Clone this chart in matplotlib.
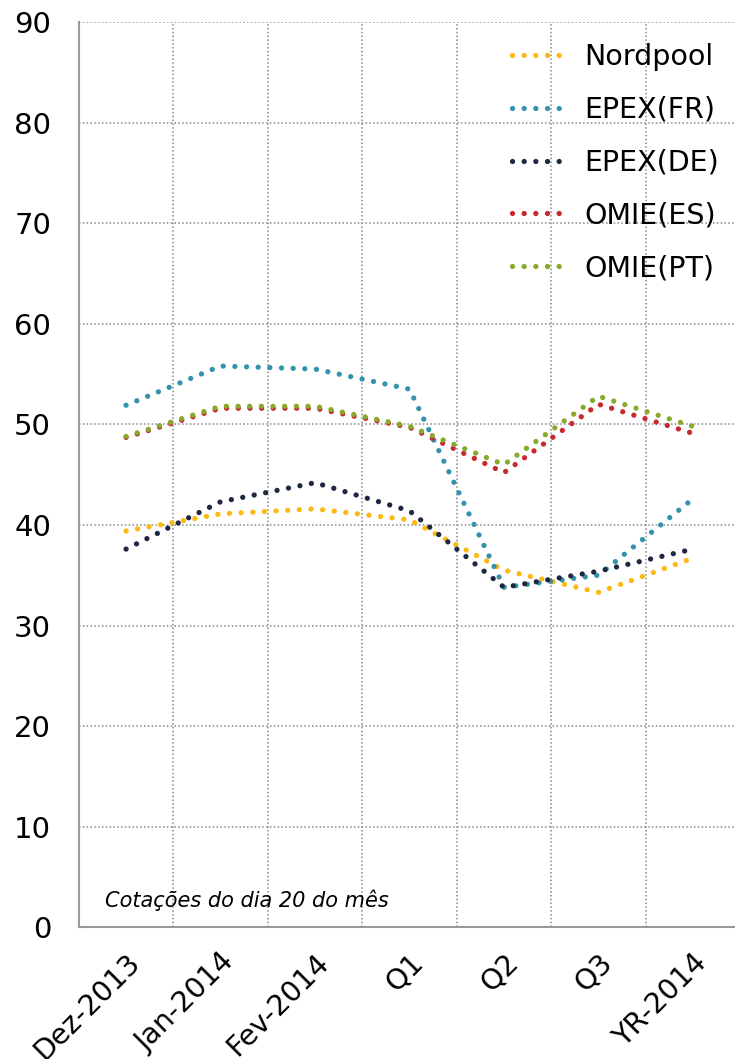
import numpy as np
import matplotlib
matplotlib.use("Agg")
import matplotlib.pyplot as plt
from matplotlib.transforms import ScaledTranslation

# Dados (cotações, €/MWh)
categorias = ["Dez-2013", "Jan-2014", "Fev-2014", "Q1", "Q2", "Q3", "YR-2014"]
nordpool = [39.4, 41.1, 41.6, 40.5, 35.5, 33.3, 36.7]
epex_fr = [51.9, 55.8, 55.5, 53.5, 33.8, 35.0, 42.6]
epex_de = [37.6, 42.3, 44.2, 41.4, 33.8, 35.4, 37.6]
omie_es = [48.7, 51.6, 51.6, 49.7, 45.2, 52.0, 49.1]
omie_pt = [48.8, 51.8, 51.8, 49.8, 46.0, 52.8, 49.8]

series = [
    ("Nordpool", nordpool, "#FDB813"),
    ("EPEX(FR)", epex_fr, "#3493AC"),
    ("EPEX(DE)", epex_de, "#1E2843"),
    ("OMIE(ES)", omie_es, "#C8282E"),
    ("OMIE(PT)", omie_pt, "#87AA2D"),
]

plt.rcParams['font.family'] = ['DejaVu Sans']

fig = plt.figure(figsize=(7.35, 10.59), dpi=100)
W, H = 735, 1059
ax = fig.add_axes([78.8 / W, (H - 927.3) / H, 661.4 / W, 905.3 / H])

x = np.arange(len(categorias))
for nome, vals, cor in series:
    ax.plot(x, vals, color=cor, lw=3.8, linestyle=(0, (0.01, 2.2)),
            dash_capstyle='round', solid_joinstyle='round', label=nome, clip_on=False)

ax.set_xlim(-0.5, 6.5)
ax.set_ylim(0, 90)
ax.set_yticks(range(0, 91, 10))
ax.set_xticks(x)
ax.set_xticks(np.arange(0.5, 6, 1), minor=True)
ax.set_xticklabels(categorias, rotation=45, ha='right', va='top',
                   rotation_mode='anchor', fontsize=20.5)
# desloca as etiquetas rodadas um pouco para a esquerda, como no original
for lab in ax.get_xticklabels():
    lab.set_transform(lab.get_transform() + ScaledTranslation(-5 / 100, 0, fig.dpi_scale_trans))
ax.tick_params(axis='x', which='both', length=0, pad=15)
ax.tick_params(axis='y', length=0, pad=20, labelsize=21)

ax.grid(True, which='minor', axis='x', color='#888888', linestyle=(0, (1, 1.5)), lw=1.1)
ax.grid(True, which='major', axis='y', color='#888888', linestyle=(0, (1, 1.5)), lw=1.1)
ax.grid(False, which='major', axis='x')
ax.set_axisbelow(True)

for s in ['top', 'right']:
    ax.spines[s].set_visible(False)
for s in ['left', 'bottom']:
    ax.spines[s].set_color('#999999')
    ax.spines[s].set_linewidth(1.5)

ax.text(0.04, 0.030, "Cotações do dia 20 do mês", transform=ax.transAxes,
        fontsize=15, style='italic', va='center', ha='left')

leg = fig.legend(loc='upper right', bbox_to_anchor=(719 / W, (H - 43) / H),
                 frameon=False, fontsize=20.5, handlelength=2.0,
                 handletextpad=0.55, labelspacing=0.87, borderpad=0, borderaxespad=0)

fig.savefig("out.png", dpi=100)
